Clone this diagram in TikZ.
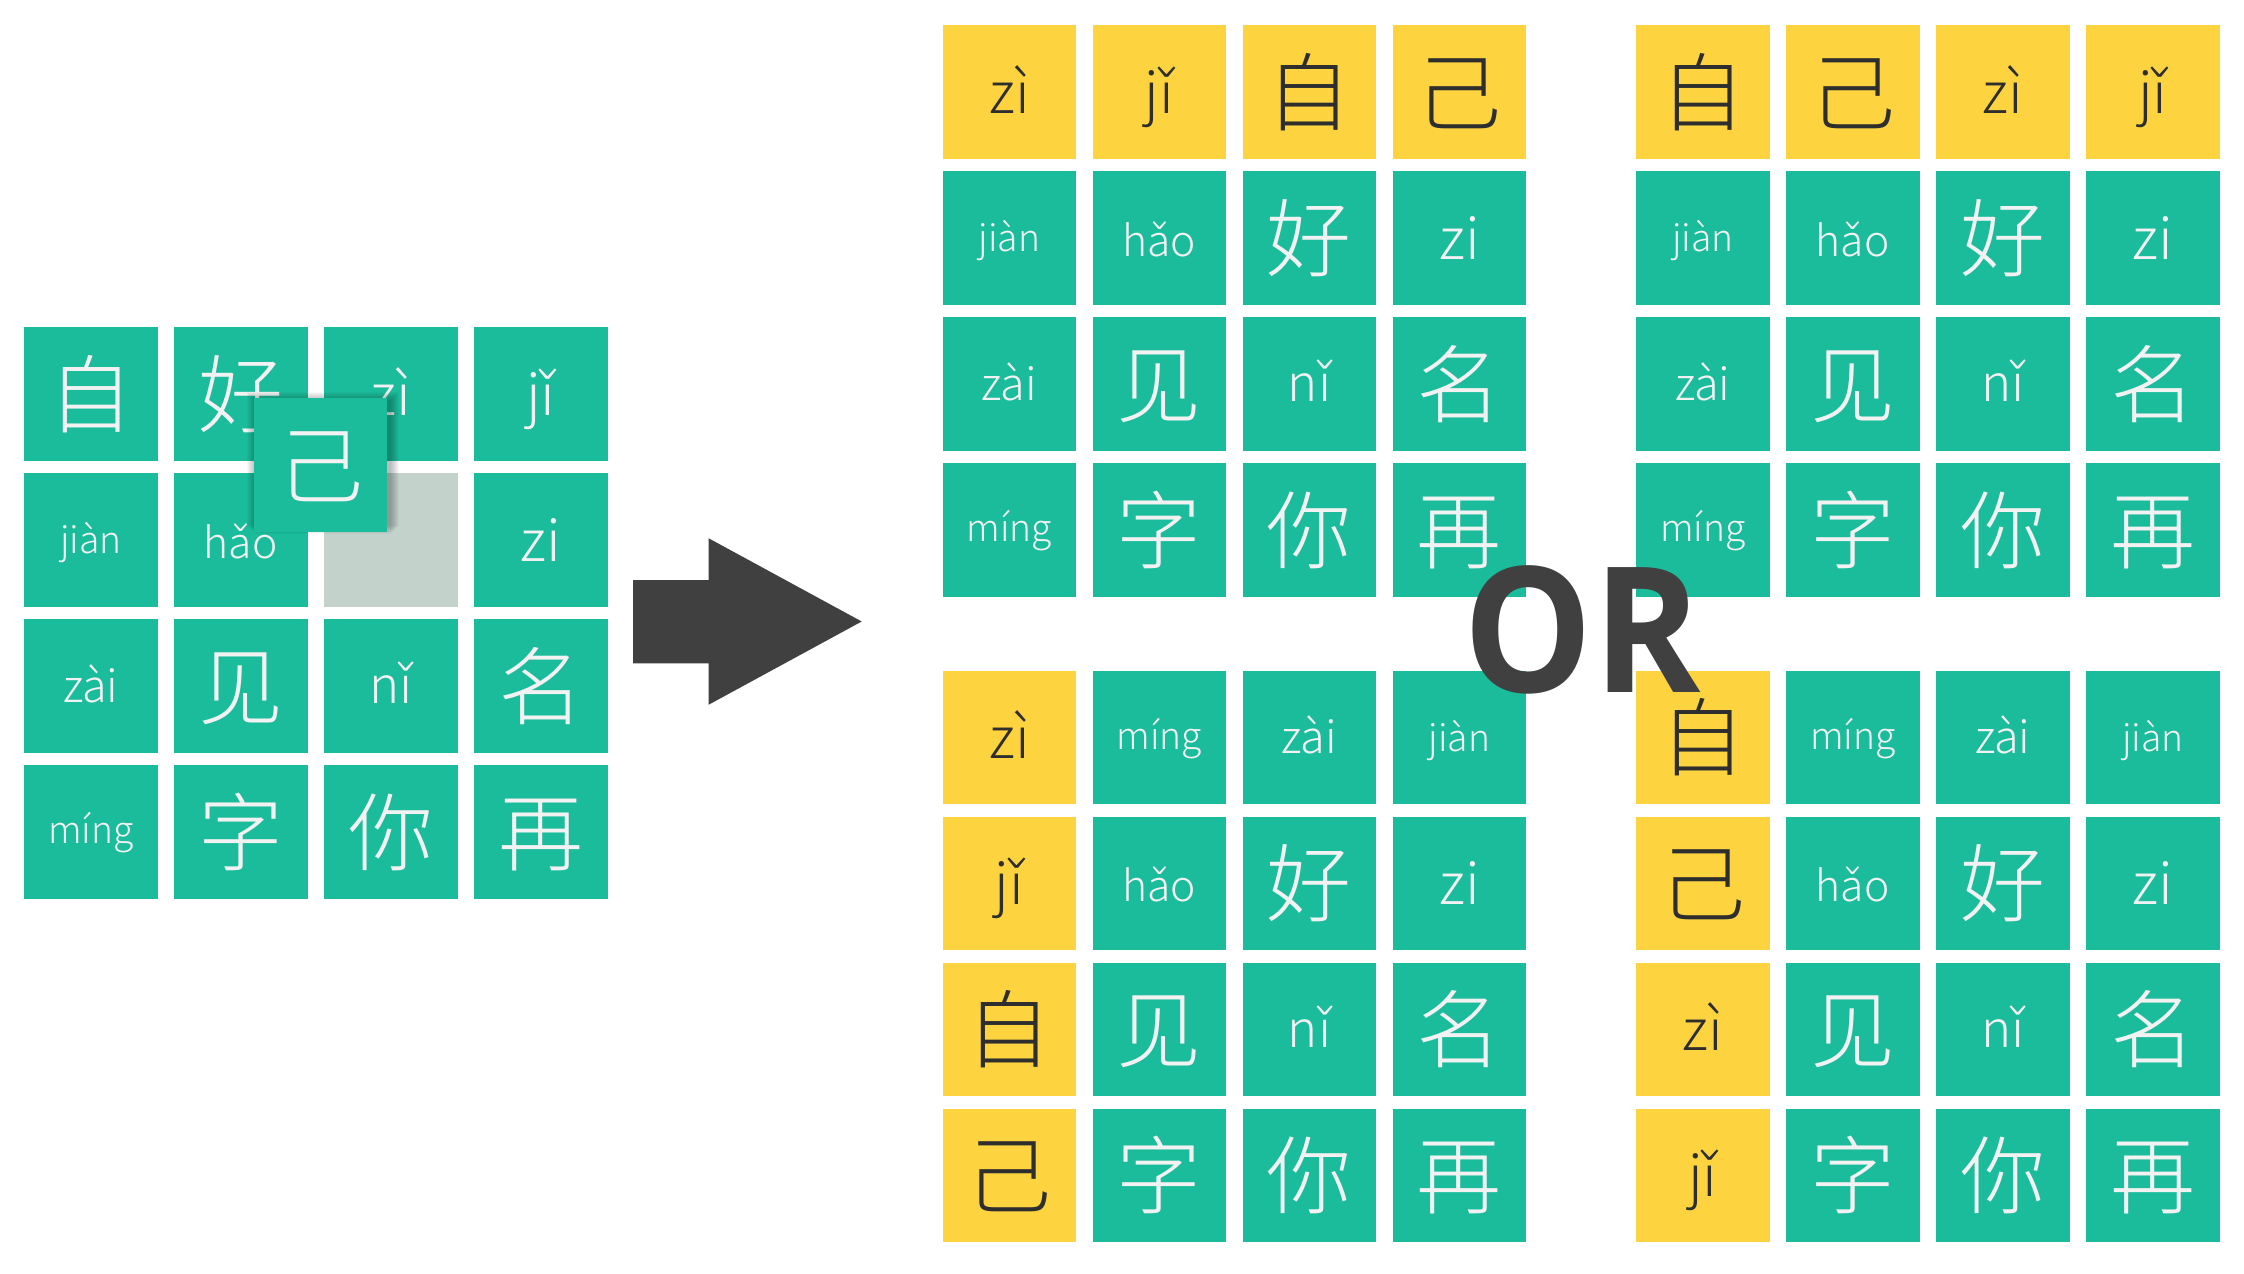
\documentclass[tikz,border=0pt]{standalone}
\usepackage{fontspec}
\newfontfamily\cjkl{Noto Sans CJK SC Light}
\newfontfamily\orfont{Open Sans}[FakeStretch=0.93]
\definecolor{tteal}{HTML}{1BBC9B}
\definecolor{tyellow}{HTML}{FDD43F}
\definecolor{tgray}{HTML}{C3D3CC}
\definecolor{tdark}{HTML}{2E2E2E}
\definecolor{tlight}{HTML}{F2F2F2}
\definecolor{arrowgray}{HTML}{404040}
\tikzset{
  tile/.style={minimum width=66.75pt, minimum height=66.75pt, inner sep=0pt, outer sep=0pt},
  yl/.style={tile, fill=tyellow, text=tdark},
  tl/.style={tile, fill=tteal, text=tlight},
  gr/.style={tile, fill=tgray},
  ch/.style={font=\cjkl\fontsize{42.5}{42.5}\selectfont, text height=37.4pt, text depth=5.1pt},
  pa/.style={font=\cjkl\fontsize{28.5}{28.5}\selectfont, text height=21.4pt, text depth=0pt},
  pb/.style={font=\cjkl\fontsize{25.5}{25.5}\selectfont, text height=18pt, text depth=0pt},
  pc/.style={font=\cjkl\fontsize{22.5}{22.5}\selectfont, text height=16.3pt, text depth=0pt},
  pd/.style={font=\cjkl\fontsize{21.3}{21.3}\selectfont, text height=18.3pt, text depth=0pt},
  pe/.style={font=\cjkl\fontsize{18.6}{18.6}\selectfont, text height=14pt, text depth=0pt},
  pf/.style={font=\cjkl\fontsize{18.6}{18.6}\selectfont, text height=11.7pt, text depth=0pt},
  emptycell/.style={text height=0pt, text depth=0pt},
}
\newcommand{\tilegrid}[4]{%
  \foreach \c/\s/\t [count=\i from 0] in {#4} {
    \pgfmathtruncatemacro\rr{div(\i,4)}
    \pgfmathtruncatemacro\cc{mod(\i,4)}
    \node[\c, \s] (#1\rr\cc) at ({#2+\cc*150+66.75},{#3+\rr*146+66.75}) {\t};
  }%
}
\begin{document}
\begin{tikzpicture}[x=0.5pt, y=-0.5pt]
\fill[white] (0,0) rectangle (2244,1274);
\useasboundingbox (0,0) rectangle (2244,1274);

% input grid
\tilegrid{L}{24}{327}{tl/ch/自, tl/ch/好, tl/pa/zì, tl/pa/jǐ,
  tl/pe/jiàn, tl/pd/hǎo, gr/emptycell/, tl/pa/zi,
  tl/pc/zài, tl/ch/见, tl/pb/nǐ, tl/ch/名,
  tl/pf/míng, tl/ch/字, tl/ch/你, tl/ch/再}

% moved tile with soft shadow
\foreach \k in {1,...,9}
  \fill[black, opacity=0.03] ({253.5-\k+2},{398-\k+3}) rectangle ({387.5+\k+2},{532-\k+3});
\node[tl, ch] (M) at (320.5,465) {己};

% arrow
\fill[arrowgray] (633,580) -- (708.7,580) -- (708.7,538.3) -- (861.7,621.5)
  -- (708.7,704.7) -- (708.7,663.3) -- (633,663.3) -- cycle;

% results
\tilegrid{A}{942.7}{25}{yl/pa/zì, yl/pa/jǐ, yl/ch/自, yl/ch/己,
  tl/pe/jiàn, tl/pd/hǎo, tl/ch/好, tl/pa/zi,
  tl/pc/zài, tl/ch/见, tl/pb/nǐ, tl/ch/名,
  tl/pf/míng, tl/ch/字, tl/ch/你, tl/ch/再}
\tilegrid{B}{1636}{25}{yl/ch/自, yl/ch/己, yl/pa/zì, yl/pa/jǐ,
  tl/pe/jiàn, tl/pd/hǎo, tl/ch/好, tl/pa/zi,
  tl/pc/zài, tl/ch/见, tl/pb/nǐ, tl/ch/名,
  tl/pf/míng, tl/ch/字, tl/ch/你, tl/ch/再}
\tilegrid{C}{942.7}{670.7}{yl/pa/zì, tl/pf/míng, tl/pc/zài, tl/pe/jiàn,
  yl/pa/jǐ, tl/pd/hǎo, tl/ch/好, tl/pa/zi,
  yl/ch/自, tl/ch/见, tl/pb/nǐ, tl/ch/名,
  yl/ch/己, tl/ch/字, tl/ch/你, tl/ch/再}
\tilegrid{D}{1636}{670.7}{yl/ch/自, tl/pf/míng, tl/pc/zài, tl/pe/jiàn,
  yl/ch/己, tl/pd/hǎo, tl/ch/好, tl/pa/zi,
  yl/pa/zì, tl/ch/见, tl/pb/nǐ, tl/ch/名,
  yl/pa/jǐ, tl/ch/字, tl/ch/你, tl/ch/再}

% OR
\node[anchor=base, inner sep=0pt, text=arrowgray, font=\orfont\bfseries\fontsize{87.5}{87.5}\selectfont] (OR) at (1582,692.7) {OR};
\end{tikzpicture}
\end{document}
